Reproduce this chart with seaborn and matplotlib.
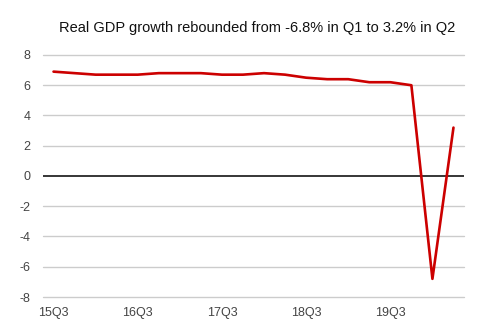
import matplotlib
matplotlib.use("Agg")
import matplotlib.pyplot as plt
import seaborn as sns
import pandas as pd

quarters = ["15Q3", "15Q4", "16Q1", "16Q2", "16Q3", "16Q4", "17Q1", "17Q2",
            "17Q3", "17Q4", "18Q1", "18Q2", "18Q3", "18Q4", "19Q1", "19Q2",
            "19Q3", "19Q4", "20Q1", "20Q2"]
gdp_growth = [6.9, 6.8, 6.7, 6.7, 6.7, 6.8, 6.8, 6.8,
              6.7, 6.7, 6.8, 6.7, 6.5, 6.4, 6.4, 6.2,
              6.2, 6.0, -6.8, 3.2]
tick_labels = ["15Q3", "16Q3", "17Q3", "18Q3", "19Q3"]
y_ticks = [-8, -6, -4, -2, 0, 2, 4, 6, 8]
title = "Real GDP growth rebounded from -6.8% in Q1 to 3.2% in Q2"

sns.set_theme(style="white")
plt.rcParams["font.family"] = ["Liberation Sans", "DejaVu Sans"]

df = pd.DataFrame({"pos": range(len(quarters)), "q": quarters, "v": gdp_growth})

fig = plt.figure(figsize=(4.91, 3.34), dpi=100)
ax = fig.add_axes([43 / 491, 1 - 297 / 334, (464 - 43) / 491, (297 - 55) / 334])

for t in y_ticks:
    if t == 0:
        continue
    ax.axhline(t, color="#cccccc", lw=1, zorder=1, clip_on=False)
ax.axhline(0, color="black", lw=1.1, zorder=2)

sns.lineplot(data=df, x="pos", y="v", color="#cc0000", lw=1.9, ax=ax, zorder=3)

ax.set_xlim(-0.5, len(quarters) - 0.5)
ax.set_ylim(-8, 8)
ax.set_yticks(y_ticks)
ax.set_yticklabels([str(t) for t in y_ticks])
ax.set_xticks([quarters.index(l) for l in tick_labels])
ax.set_xticklabels(tick_labels)
ax.tick_params(axis="both", length=0, colors="#444444", labelsize=9)
ax.tick_params(axis="y", pad=9)
ax.tick_params(axis="x", pad=7)
ax.set_xlabel("")
ax.set_ylabel("")
for s in ax.spines.values():
    s.set_visible(False)

fig.text(257 / 491, 1 - 28 / 334, title, ha="center", va="center",
         fontsize=10.5, color="#111111")

fig.savefig("out.png", dpi=100)
